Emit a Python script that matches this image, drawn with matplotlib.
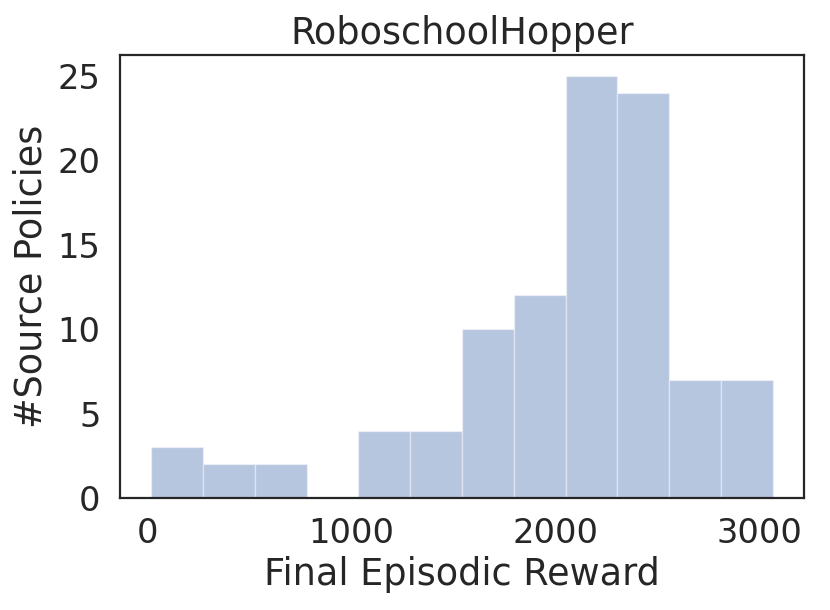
import numpy as np
import matplotlib
matplotlib.use("Agg")
import matplotlib.pyplot as plt
import seaborn as sns

# histogram: 12 equal bins
bin_lo = 17
bin_hi = 3067
counts = [3, 2, 2, 0, 4, 4, 10, 12, 25, 24, 7, 7]

sns.set_theme(style="white")
plt.rcParams['font.family'] = ['DejaVu Sans']

edges = np.linspace(bin_lo, bin_hi, len(counts) + 1)
centers = (edges[:-1] + edges[1:]) / 2

fig = plt.figure(figsize=(8.3, 6.1), dpi=100)
ax = fig.add_axes([0.1446, 0.1836, 0.8241, 0.7262])
ax.hist(centers, bins=edges, weights=counts, color='#4c72b0', alpha=0.4,
        edgecolor='white', linewidth=1)
ax.set_ylim(0, max(counts) * 1.05)
ax.set_yticks([0, 5, 10, 15, 20, 25])
ax.set_xticks([0, 1000, 2000, 3000])
ax.tick_params(labelsize=24.2, colors='.15', pad=8)
for s in ax.spines.values():
    s.set_color('.15')
    s.set_linewidth(1.6)
ax.set_title("RoboschoolHopper", fontsize=26.4, color='.15', pad=8)
ax.set_xlabel("Final Episodic Reward", fontsize=26.4, color='.15', labelpad=4)
ax.set_ylabel("#Source Policies", fontsize=26.4, color='.15', labelpad=6)
fig.savefig("out.png", dpi=100)
